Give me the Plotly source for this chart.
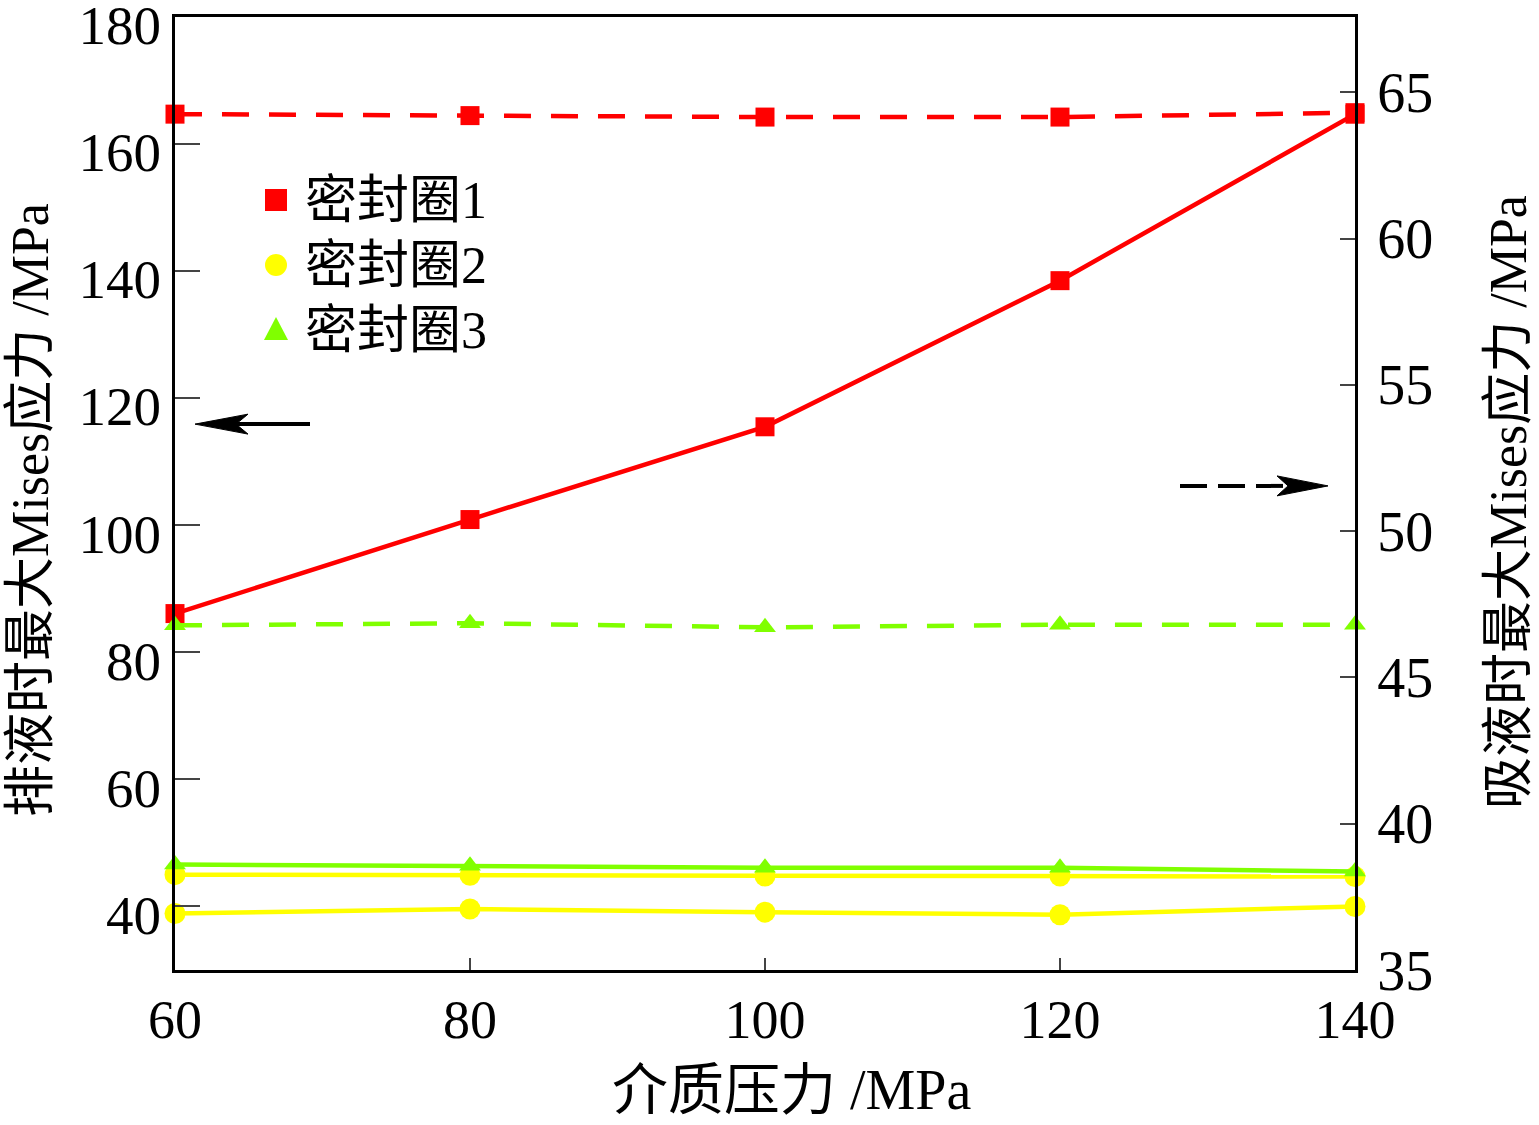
import plotly.graph_objects as go

# ---------------- data ----------------
pressure = [60, 80, 100, 120, 140]

# discharge (left axis, solid lines)
ring1_discharge = [86.1, 100.9, 115.5, 138.5, 164.7]
ring2a_discharge = [45.0, 44.9, 44.8, 44.8, 44.7]
ring2b_discharge = [38.9, 39.6, 39.1, 38.7, 40.0]
ring3_discharge = [46.6, 46.4, 46.1, 46.1, 45.5]

# suction (right axis, dashed lines)
ring1_suction = [64.25, 64.2, 64.15, 64.15, 64.3]
ring3_suction = [46.78, 46.85, 46.71, 46.8, 46.8]

legend_names = ["密封圈1", "密封圈2", "密封圈3"]

x_ticks = [60, 80, 100, 120, 140]
left_ticks = [40, 60, 80, 100, 120, 140, 160, 180]
right_ticks = [35, 40, 45, 50, 55, 60, 65]

RED = "#ff0000"
YEL = "#ffff00"
GRN = "#80ff00"
FONT = "Liberation Serif, Noto Sans CJK SC, serif"

# plot area in pixels (for decoration placement)
L, R, T, B = 175, 1355, 17, 970
def px(xp):
    return (xp - L) / (R - L)
def py(yp):
    return (B - yp) / (B - T)

fig = go.Figure()

def add(y, color, symbol, size, dash=None, axis="y"):
    fig.add_trace(go.Scatter(
        x=pressure, y=y, mode="lines+markers", yaxis=axis, showlegend=False,
        line=dict(color=color, width=4.5, dash=dash),
        marker=dict(color=color, symbol=symbol, size=size),
        cliponaxis=False,
    ))

add(ring2b_discharge, YEL, "circle", 21)
add(ring2a_discharge, YEL, "circle", 21)
add(ring3_discharge, GRN, "triangle-up", 19)
add(ring1_discharge, RED, "square", 19)
add(ring3_suction, GRN, "triangle-up", 19, dash="27px,20px", axis="y2")
add(ring1_suction, RED, "square", 19, dash="27px,20px", axis="y2")

# ---------------- custom legend (markers + labels) ----------------
leg_rows = [200, 265, 330]
mx = 276
ms = 11  # half size in px
fig.add_shape(type="rect", xref="paper", yref="paper",
              x0=px(mx - ms), x1=px(mx + ms), y0=py(leg_rows[0] + ms), y1=py(leg_rows[0] - ms),
              fillcolor=RED, line=dict(width=0))
fig.add_shape(type="circle", xref="paper", yref="paper",
              x0=px(mx - ms), x1=px(mx + ms), y0=py(leg_rows[1] + ms), y1=py(leg_rows[1] - ms),
              fillcolor=YEL, line=dict(width=0))
ty = leg_rows[2]
fig.add_shape(type="path", xref="paper", yref="paper",
              path=f"M {px(mx - 12)},{py(ty + 10)} L {px(mx + 12)},{py(ty + 10)} L {px(mx)},{py(ty - 13)} Z",
              fillcolor=GRN, line=dict(width=0))
for name, yrow in zip(legend_names, leg_rows):
    fig.add_annotation(text=name, xref="paper", yref="paper", x=px(303), y=py(yrow),
                       xanchor="left", yanchor="middle", showarrow=False,
                       font=dict(family=FONT, size=52, color="black"))

# ---------------- arrows ----------------
def dx(p):
    return 60 + (p - L) / 14.75
def dy(p):
    return 40 + (908 - p) / 6.375

fig.add_shape(type="line", xref="x", yref="y", x0=dx(235), x1=dx(310), y0=dy(424), y1=dy(424),
              line=dict(color="black", width=4))
fig.add_shape(type="path", xref="x", yref="y",
              path=f"M {dx(195)},{dy(424)} L {dx(248)},{dy(414)} L {dx(236)},{dy(424)} L {dx(248)},{dy(434)} Z",
              fillcolor="black", line=dict(color="black", width=1))
fig.add_shape(type="line", xref="x", yref="y", x0=dx(1180), x1=dx(1290), y0=dy(486), y1=dy(486),
              line=dict(color="black", width=4, dash="27px,11px"))
fig.add_shape(type="path", xref="x", yref="y",
              path=f"M {dx(1328)},{dy(486)} L {dx(1277)},{dy(476)} L {dx(1288)},{dy(486)} L {dx(1277)},{dy(496)} Z",
              fillcolor="black", line=dict(color="black", width=1))

# ---------------- axis titles ----------------
fig.add_annotation(text="排液时最大Mises应力 /MPa", xref="paper", yref="paper",
                   x=px(31), y=py(510), xanchor="center", yanchor="middle",
                   textangle=-90, showarrow=False,
                   font=dict(family=FONT, size=52, color="black"))
fig.add_annotation(text="吸液时最大Mises应力 /MPa", xref="paper", yref="paper",
                   x=px(1508), y=py(502), xanchor="center", yanchor="middle",
                   textangle=-90, showarrow=False,
                   font=dict(family=FONT, size=52, color="black"))
fig.add_annotation(text="介质压力 /MPa", xref="paper", yref="paper",
                   x=px(791), y=py(1090), xanchor="center", yanchor="middle",
                   showarrow=False,
                   font=dict(family=FONT, size=56, color="black"))

fig.update_layout(
    width=1539, height=1125,
    margin=dict(l=L, r=1539 - R, t=T, b=1125 - B, autoexpand=False),
    plot_bgcolor="white", paper_bgcolor="white",
    font=dict(family=FONT, color="black"),
    showlegend=False,
    xaxis=dict(range=[60, 140], tickvals=x_ticks, ticks="inside", ticklen=12,
               tickwidth=2, showline=True, linewidth=3, linecolor="black",
               mirror=True, showgrid=False, zeroline=False, automargin=False,
               tickfont=dict(family=FONT, size=54), ticklabelstandoff=0,
               ticklabeloverflow="allow"),
    yaxis=dict(range=[30, 180], tickvals=left_ticks, ticks="inside", ticklen=25,
               tickwidth=2, showline=True, linewidth=3, linecolor="black",
               mirror=True, showgrid=False, zeroline=False, automargin=False,
               tickfont=dict(family=FONT, size=55), ticklabeloverflow="allow",
               ticklabelshift=8),
    yaxis2=dict(range=[35, 67.57], tickvals=right_ticks, ticks="inside", ticklen=15,
                tickwidth=2, overlaying="y", side="right", showline=True,
                linewidth=3, linecolor="black", showgrid=False, zeroline=False,
                automargin=False,
                tickfont=dict(family=FONT, size=56), ticklabelstandoff=8,
                ticklabeloverflow="allow"),
)

fig.write_html("out.html")
